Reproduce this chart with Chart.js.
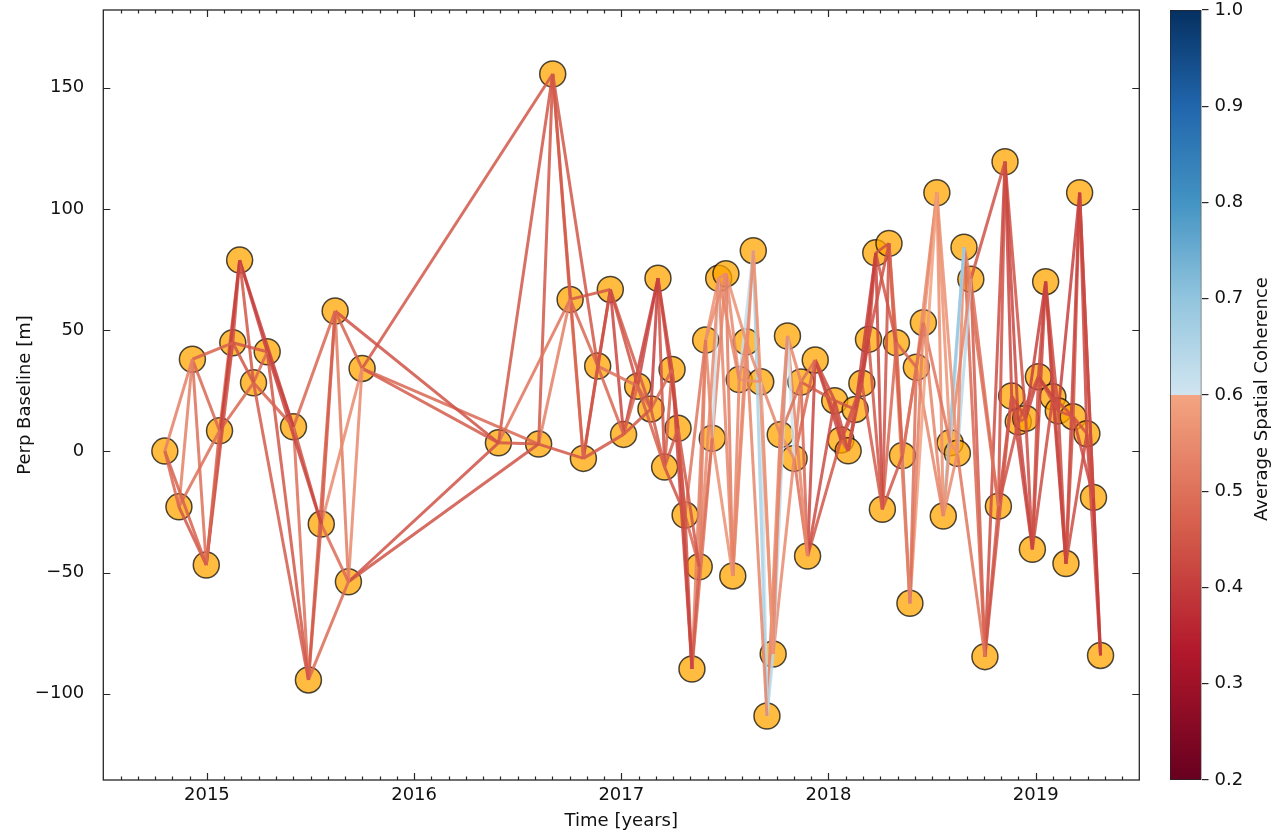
<!DOCTYPE html>
<html>
<head>
<meta charset="utf-8">
<title>Interferogram network</title>
<script src="https://cdn.jsdelivr.net/npm/chart.js@4.4.1/dist/chart.umd.min.js"></script>
<style>
  html, body { margin: 0; padding: 0; background: #ffffff; }
  #wrap { position: relative; width: 1272px; height: 832px; }
  #network { position: absolute; left: 0; top: 0; }
  #colorbar { position: absolute; left: 1150px; top: 0; }
</style>
</head>
<body>
<div id="wrap">
  <canvas id="network" width="1272" height="832"></canvas>
  <canvas id="colorbar" width="122" height="832"></canvas>
</div>
<script>
// Acquisition dates (decimal years) and perpendicular baselines [m]
const acquisitionYears = [
  2014.797, 2014.865, 2014.930, 2014.997, 2015.061, 2015.125, 2015.158, 2015.225, 2015.291, 2015.418,
  2015.490, 2015.552, 2015.619, 2015.683, 2015.749, 2016.407, 2016.601, 2016.669, 2016.753, 2016.817,
  2016.886, 2016.947, 2017.011, 2017.079, 2017.143, 2017.177, 2017.209, 2017.245, 2017.274, 2017.308,
  2017.341, 2017.376, 2017.407, 2017.439, 2017.470, 2017.505, 2017.538, 2017.569, 2017.603, 2017.637,
  2017.673, 2017.703, 2017.733, 2017.767, 2017.802, 2017.834, 2017.867, 2017.899, 2017.936, 2018.030,
  2018.060, 2018.095, 2018.129, 2018.161, 2018.193, 2018.228, 2018.260, 2018.292, 2018.328, 2018.357,
  2018.393, 2018.424, 2018.458, 2018.523, 2018.554, 2018.587, 2018.622, 2018.654, 2018.687, 2018.755,
  2018.820, 2018.852, 2018.884, 2018.916, 2018.952, 2018.984, 2019.013, 2019.048, 2019.083, 2019.109,
  2019.146, 2019.181, 2019.212, 2019.247, 2019.279, 2019.313
];
const perpBaseline = [
    0.1, -22.9,  38.0, -46.9,   8.5,  44.8,  78.9,  28.3,  41.1,  10.1,
  -94.3, -30.0,  57.9, -53.8,  34.2,   3.5,   3.0, 155.7,  62.7,  -2.9,
   35.2,  66.8,   7.0,  26.9,  17.5,  71.4,  -6.5,  33.8,   9.5, -26.3,
  -89.8, -47.6,  45.9,   5.4,  71.4,  73.3, -51.4,  29.6,  45.2,  82.8,
   28.7,-109.2, -83.6,   6.9,  47.6,  -2.9,  28.6, -43.2,  37.7,  20.9,
    4.7,   0.2,  17.3,  28.1,  46.2,  81.9, -23.9,  85.8,  44.8,  -1.7,
  -62.7,  34.7,  53.1, 106.7, -26.7,   3.5,  -0.8,  84.2,  71.0, -84.7,
  -22.6, 119.5,  22.8,  12.2,  13.6, -40.4,  30.8,  70.0,  22.5,  16.7,
  -46.3,  14.3, 106.7,   7.3, -19.0, -84.2
];

// Average spatial coherence of each interferogram, pairing every
// acquisition with the 1st, 2nd and 3rd acquisitions that follow it
const cohNext1 = [
  0.48, 0.53, 0.50, 0.48, 0.47, 0.44, 0.45, 0.48, 0.44, 0.50,
  0.46, 0.46, 0.52, 0.55, 0.46, 0.45, 0.45, 0.46, 0.53, 0.45,
  0.43, 0.42, 0.48, 0.48, 0.41, 0.44, 0.48, 0.46, 0.50, 0.44,
  0.46, 0.52, 0.54, 0.61, 0.55, 0.52, 0.54, 0.55, 0.56, 0.57,
  0.61, 0.64, 0.54, 0.54, 0.60, 0.53, 0.48, 0.42, 0.43, 0.45,
  0.48, 0.44, 0.43, 0.44, 0.43, 0.42, 0.44, 0.48, 0.53, 0.61,
  0.50, 0.48, 0.56, 0.56, 0.57, 0.56, 0.55, 0.53, 0.46, 0.45,
  0.44, 0.42, 0.45, 0.46, 0.43, 0.44, 0.43, 0.42, 0.45, 0.43,
  0.44, 0.45, 0.42, 0.44, 0.45, null
];
const cohNext2 = [
  0.53, 0.45, 0.48, 0.44, 0.50, 0.45, 0.41, 0.47, 0.45, 0.45,
  0.47, 0.49, 0.47, 0.44, 0.48, 0.45, 0.53, 0.47, 0.48, 0.44,
  0.48, 0.44, 0.45, 0.42, 0.46, 0.42, 0.46, 0.44, 0.43, 0.48,
  0.53, 0.54, 0.56, 0.54, 0.54, 0.55, 0.55, 0.62, 0.55, 0.66,
  0.55, 0.55, 0.63, 0.55, 0.54, 0.50, 0.50, 0.43, 0.42, 0.43,
  0.46, 0.43, 0.42, 0.42, 0.45, 0.44, 0.48, 0.47, 0.50, 0.50,
  0.53, 0.55, 0.54, 0.57, 0.55, 0.63, 0.64, 0.48, 0.50, 0.43,
  0.43, 0.42, 0.43, 0.42, 0.42, 0.42, 0.41, 0.43, 0.42, 0.45,
  0.42, 0.44, 0.43, 0.43, null, null
];
const cohNext3 = [
  0.47, 0.50, 0.47, 0.40, 0.48, 0.45, 0.41, 0.46, 0.42, 0.48,
  0.49, 0.55, 0.44, 0.44, 0.45, 0.51, 0.45, 0.45, 0.45, 0.45,
  0.50, 0.46, 0.41, 0.47, 0.48, 0.42, 0.44, 0.42, 0.45, 0.51,
  0.50, 0.55, 0.55, 0.56, 0.54, 0.56, 0.55, 0.56, 0.54, 0.57,
  0.54, 0.54, 0.55, 0.50, 0.54, 0.48, 0.46, 0.45, 0.44, 0.45,
  0.44, 0.42, 0.41, 0.46, 0.44, 0.45, 0.45, 0.53, 0.48, 0.51,
  0.59, 0.54, 0.51, 0.56, 0.69, 0.54, 0.51, 0.50, 0.44, 0.45,
  0.44, 0.44, 0.42, 0.44, 0.41, 0.43, 0.44, 0.42, 0.44, 0.41,
  0.43, 0.43, 0.40, null, null, null
];

const yearTicks = [2015, 2016, 2017, 2018, 2019];
const baselineTicks = [-100, -50, 0, 50, 100, 150];
const coherenceTicks = [0.2, 0.3, 0.4, 0.5, 0.6, 0.7, 0.8, 0.9, 1.0];

// Diverging red/blue colour scale with the pale centre removed at 0.6
const lowStops = [[0.2, [103, 0, 31]], [0.3333, [178, 24, 43]], [0.4667, [214, 96, 77]], [0.6, [244, 165, 130]]];
const highStops = [[0.6, [209, 229, 240]], [0.7, [146, 197, 222]], [0.8, [67, 147, 195]], [0.9, [33, 102, 172]], [1.0, [5, 48, 97]]];

function coherenceRGB(v) {
  const stops = v < 0.6 ? lowStops : highStops;
  if (v <= stops[0][0]) return stops[0][1];
  for (let k = 1; k < stops.length; k++) {
    if (v <= stops[k][0]) {
      const [v0, c0] = stops[k - 1];
      const [v1, c1] = stops[k];
      const t = (v - v0) / (v1 - v0);
      return c0.map((c, n) => Math.round(c + (c1[n] - c) * t));
    }
  }
  return stops[stops.length - 1][1];
}
const rgba = (c, a) => `rgba(${c[0]},${c[1]},${c[2]},${a})`;

Chart.defaults.font.family = '"DejaVu Sans", "Liberation Sans", sans-serif';
Chart.defaults.color = '#111111';
Chart.defaults.animation = false;

// Interferogram pairs as two-point line segments
const nodes = acquisitionYears.map((t, i) => ({ x: t, y: perpBaseline[i] }));
const pairSets = [];
const cohLists = [cohNext1, cohNext2, cohNext3];
for (let i = 0; i < nodes.length; i++) {
  cohLists.forEach((list, k) => {
    const c = list[i];
    const j = i + k + 1;
    if (c == null || j >= nodes.length) return;
    pairSets.push({
      data: [nodes[i], nodes[j]],
      showLine: true,
      borderColor: rgba(coherenceRGB(c), 0.85),
      borderWidth: 3,
      pointRadius: 0,
      pointHoverRadius: 0,
      order: 0
    });
  });
}

const acquisitionSet = {
  data: nodes,
  showLine: false,
  pointRadius: 13,
  pointHoverRadius: 13,
  backgroundColor: 'rgba(255,165,0,0.75)',
  borderColor: 'rgba(0,0,0,0.7)',
  borderWidth: 1.5,
  order: 1
};

// Axes frame with inward ticks on all four sides
const frameTicks = {
  id: 'frameTicks',
  afterDraw(chart) {
    const { ctx, chartArea: a, scales: { x, y } } = chart;
    ctx.save();
    ctx.strokeStyle = '#262626';
    ctx.lineWidth = 1.3;
    ctx.strokeRect(a.left, a.top, a.right - a.left, a.bottom - a.top);
    ctx.lineWidth = 1.2;
    ctx.beginPath();
    const xTick = (v, len) => {
      const px = Math.round(x.getPixelForValue(v)) + 0.5;
      ctx.moveTo(px, a.bottom); ctx.lineTo(px, a.bottom - len);
      ctx.moveTo(px, a.top); ctx.lineTo(px, a.top + len);
    };
    yearTicks.forEach(v => xTick(v, 7));
    for (let yr = Math.floor(x.min); yr <= Math.ceil(x.max); yr++) {
      for (let m = 1; m < 12; m++) {
        const v = yr + m / 12;
        if (v > x.min && v < x.max) xTick(v, 3.5);
      }
    }
    baselineTicks.forEach(v => {
      const py = Math.round(y.getPixelForValue(v)) + 0.5;
      ctx.moveTo(a.left, py); ctx.lineTo(a.left + 7, py);
      ctx.moveTo(a.right, py); ctx.lineTo(a.right - 7, py);
    });
    ctx.stroke();
    ctx.restore();
  }
};

new Chart(document.getElementById('network'), {
  type: 'scatter',
  data: { datasets: [acquisitionSet, ...pairSets] },
  options: {
    responsive: false,
    events: [],
    layout: { autoPadding: false, padding: { left: 0, top: 10, right: 132.7, bottom: 0 } },
    plugins: { legend: { display: false }, tooltip: { enabled: false } },
    scales: {
      x: {
        type: 'linear',
        min: 2014.5,
        max: 2019.5,
        afterBuildTicks: s => { s.ticks = yearTicks.map(v => ({ value: v })); },
        afterFit: s => { s.height = 52; s.paddingLeft = 0; s.paddingRight = 0; },
        grid: { display: false, drawTicks: false },
        border: { display: false },
        ticks: { font: { size: 18 }, color: '#111', padding: 5, maxRotation: 0, callback: v => String(v) },
        title: { display: true, text: 'Time [years]', font: { size: 18 }, color: '#111', padding: { top: 0, bottom: 0 } }
      },
      y: {
        type: 'linear',
        min: -135.6,
        max: 182.1,
        afterBuildTicks: s => { s.ticks = baselineTicks.map(v => ({ value: v })); },
        afterFit: s => { s.width = 103.3; s.paddingTop = 0; s.paddingBottom = 0; },
        grid: { display: false, drawTicks: false },
        border: { display: false },
        ticks: { font: { size: 18 }, color: '#111', padding: 19, callback: v => String(v).replace('-', '\u2212') },
        title: { display: true, text: 'Perp Baseline [m]', font: { size: 18 }, color: '#111', padding: { top: 15, bottom: 0 } }
      }
    }
  },
  plugins: [frameTicks]
});

// Colour bar
const barTitle = {
  id: 'barTitle',
  afterDraw(chart) {
    const { ctx, chartArea: a } = chart;
    ctx.save();
    ctx.translate(112, (a.top + a.bottom) / 2 + 4);
    ctx.rotate(-Math.PI / 2);
    ctx.font = '18px "DejaVu Sans", sans-serif';
    ctx.fillStyle = '#111';
    ctx.textAlign = 'center';
    ctx.textBaseline = 'middle';
    ctx.fillText('Average Spatial Coherence', 0, 0);
    ctx.restore();
  }
};

function barGradient(context) {
  const chart = context.chart;
  const a = chart.chartArea;
  if (!a) return null;
  const lo = coherenceTicks[0];
  const hi = coherenceTicks[coherenceTicks.length - 1];
  const g = chart.ctx.createLinearGradient(0, a.bottom, 0, a.top);
  lowStops.concat(highStops).forEach(([v, c]) => g.addColorStop((v - lo) / (hi - lo), rgba(c, 1)));
  return g;
}

new Chart(document.getElementById('colorbar'), {
  type: 'bar',
  data: {
    labels: ['coherence'],
    datasets: [{
      data: [[coherenceTicks[0], coherenceTicks[coherenceTicks.length - 1]]],
      backgroundColor: barGradient,
      borderColor: '#262626',
      borderWidth: 1,
      borderSkipped: false,
      barPercentage: 1,
      categoryPercentage: 1
    }]
  },
  options: {
    responsive: false,
    events: [],
    layout: { autoPadding: false, padding: { left: 20, top: 10, right: 0, bottom: 52 } },
    plugins: { legend: { display: false }, tooltip: { enabled: false } },
    scales: {
      x: { display: false },
      y: {
        position: 'right',
        min: coherenceTicks[0],
        max: coherenceTicks[coherenceTicks.length - 1],
        afterBuildTicks: s => { s.ticks = coherenceTicks.map(v => ({ value: v })); },
        afterFit: s => { s.width = 70.5; s.paddingTop = 0; s.paddingBottom = 0; },
        grid: { drawOnChartArea: false, drawTicks: true, tickLength: 7, color: '#262626', lineWidth: 1.2 },
        border: { display: false },
        ticks: { font: { size: 18 }, color: '#111', padding: 6, callback: v => v.toFixed(1) }
      }
    }
  },
  plugins: [barTitle]
});
</script>
</body>
</html>
